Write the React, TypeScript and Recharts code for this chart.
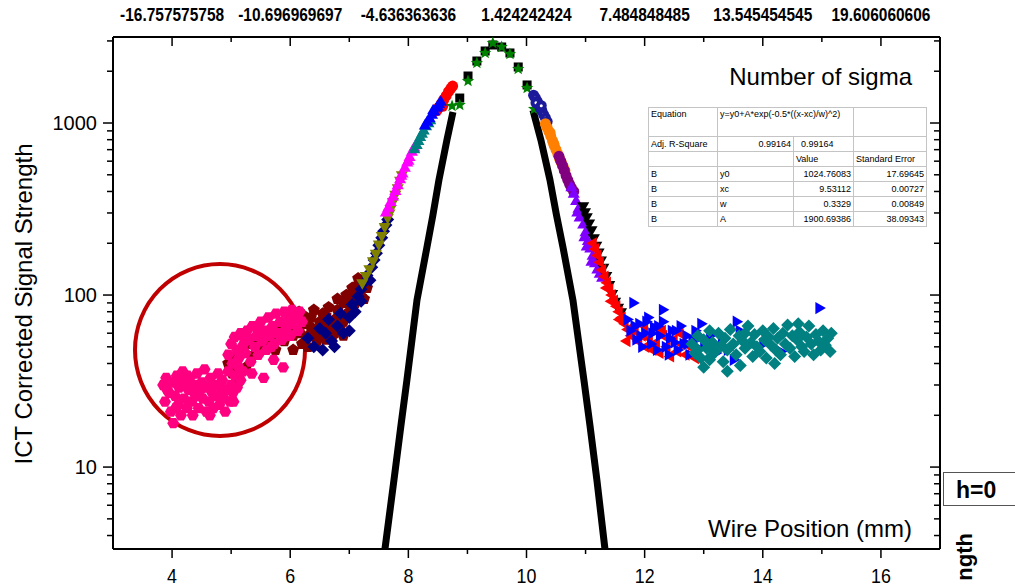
import React from "react";
import { ComposedChart, Scatter, XAxis, YAxis } from "recharts";

type Pt = [number, number];

// bottom axis ticks (mm) and the sigma labels on the top axis
const xTicks = [4, 5, 6, 7, 8, 9, 10, 11, 12, 13, 14, 15, 16];
const sigmaAt = [4, 6, 8, 10, 12, 14, 16];
const sigmaLabels = ["-16.757575758", "-10.696969697", "-4.636363636", "1.424242424", "7.484848485", "13.545454545", "19.606060606"];
const yTicks = [4, 5, 6, 7, 8, 9, 10, 20, 30, 40, 50, 60, 70, 80, 90, 100, 200, 300, 400, 500, 600, 700, 800, 900, 1000, 2000, 3000];
const yMajor = [10, 100, 1000];

// fit curve, two branches
const fitLeft: Pt[] = [
  [8.755, 1159], [8.653, 796], [8.518, 467], [8.416, 292], [8.315, 190], [8.146, 93.5], [8.061, 54.7], [7.976, 32.1], [7.875, 17.5], [7.756, 8.4], [7.604, 3.34],
];
const fitRight: Pt[] = [
  [10.109, 1190], [10.244, 796], [10.397, 467], [10.507, 292], [10.617, 190], [10.786, 93.5], [10.879, 54.7], [10.972, 32.1], [11.074, 17.5], [11.192, 8.4], [11.328, 3.34],
];

const pinkPts: Pt[] = [
  [3.85, 30], [3.88, 24], [3.9, 33], [3.95, 27], [3.98, 21], [4.0, 31], [4.02, 18], [4.05, 26], [4.08, 34], [4.1, 23],
  [4.12, 29], [4.15, 20], [4.18, 36], [4.2, 25], [4.22, 31], [4.25, 22], [4.28, 28], [4.3, 33], [4.33, 24], [4.35, 20],
  [4.38, 30], [4.4, 26], [4.42, 35], [4.45, 22], [4.48, 28], [4.5, 31], [4.52, 25], [4.55, 37], [4.58, 21], [4.6, 29],
  [4.62, 24], [4.65, 33], [4.68, 27], [4.7, 22], [4.72, 30], [4.75, 26], [4.78, 35], [4.8, 23], [4.83, 29], [4.85, 32],
  [4.88, 25], [4.9, 21], [4.92, 28], [4.95, 36], [4.98, 24], [5.0, 30], [5.03, 27], [5.06, 34], [5.1, 29], [5.13, 38],
  [5.16, 32], [5.2, 36], [3.92, 28], [4.06, 22], [4.26, 34], [4.44, 27], [4.64, 20], [4.86, 27], [5.04, 24], [4.16, 32],
  [4.95, 45], [5.0, 52], [5.02, 40], [5.06, 57], [5.1, 48], [5.13, 43], [5.16, 60], [5.2, 51], [5.24, 46], [5.27, 62],
  [5.3, 55], [5.33, 41], [5.36, 66], [5.4, 50], [5.43, 58], [5.46, 45], [5.5, 70], [5.53, 54], [5.56, 62], [5.6, 48],
  [5.63, 74], [5.66, 58], [5.7, 66], [5.73, 52], [5.76, 78], [5.8, 60], [5.83, 70], [5.86, 55], [5.9, 80], [5.93, 64],
  [5.96, 72], [6.0, 58], [6.03, 82], [6.06, 68], [6.1, 76], [6.13, 62], [6.16, 80], [6.2, 70], [5.88, 38], [5.55, 33],
  [5.35, 35], [5.72, 42], [5.22, 56], [5.45, 63], [5.68, 50], [5.95, 60], [6.08, 74],
];
const darkRedPts: Pt[] = [
  [4.95, 40], [5.02, 35], [5.08, 44], [5.12, 31], [5.18, 48], [5.25, 38], [5.3, 52], [5.35, 44], [5.42, 57], [5.48, 47],
  [5.55, 60], [5.6, 50], [5.68, 56], [5.75, 48], [5.8, 62], [5.9, 54], [6.0, 66], [6.05, 58], [6.1, 72], [6.15, 60],
  [6.2, 52], [6.25, 68], [6.3, 58], [6.35, 74], [6.4, 63], [6.45, 54], [6.5, 70], [6.55, 60], [6.6, 76], [6.65, 64],
  [6.7, 56], [6.75, 72], [6.8, 82], [6.85, 66], [6.9, 90], [6.95, 74], [7.0, 96], [7.05, 84], [7.1, 104], [7.15, 115],
  [7.2, 98], [7.25, 122], [7.3, 110],
  [6.0, 75], [6.05, 48], [6.15, 80], [6.25, 75], [6.3, 50], [6.35, 65], [6.4, 82], [6.45, 60], [6.55, 78], [6.6, 55],
  [6.65, 85], [6.7, 68], [6.75, 60], [6.8, 95], [6.85, 75], [6.9, 70], [6.95, 100], [7.0, 80], [7.05, 110], [7.1, 90],
  [7.15, 125], [7.25, 95], [6.62, 66], [6.9, 58],
];
const navyDiamondPts: Pt[] = [
  [6.3, 56], [6.4, 50], [6.5, 64], [6.55, 48], [6.6, 60], [6.65, 72], [6.7, 54], [6.8, 66], [6.85, 78], [6.9, 60],
  [7.0, 74], [7.05, 88], [7.1, 80], [7.15, 98], [7.2, 108], [7.25, 118], [7.3, 130], [7.35, 122], [7.38, 145], [7.42, 160],
  [7.46, 175], [7.5, 195], [7.55, 215], [7.58, 235], [7.62, 255], [7.65, 275], [6.75, 50], [7.0, 62], [7.2, 92],
];
const olivePts: Pt[] = [
  [7.22, 118], [7.28, 130], [7.34, 142], [7.4, 158], [7.45, 175], [7.5, 198], [7.55, 222], [7.6, 250], [7.65, 282], [7.7, 318],
  [7.74, 350], [7.78, 385], [7.82, 420], [7.86, 465], [7.89, 500], [7.68, 300],
];
const magentaPts: Pt[] = [
  [7.62, 300], [7.66, 320], [7.7, 345], [7.74, 372], [7.78, 400], [7.82, 432], [7.86, 468], [7.9, 505], [7.94, 545], [7.98, 585],
  [8.02, 630], [8.06, 675], [8.1, 715], [8.13, 740], [7.88, 490], [8.0, 600],
];
const tealTriPts: Pt[] = [[8.1, 700], [8.14, 740], [8.17, 780], [8.2, 825], [8.23, 860], [8.26, 900], [8.3, 950], [8.34, 990], [8.37, 1030]];
const blueUpPts: Pt[] = [[8.28, 960], [8.32, 1010], [8.36, 1060], [8.4, 1110], [8.44, 1160], [8.48, 1220], [8.52, 1280], [8.55, 1320], [8.42, 1180], [8.5, 1240]];
const redCirclePts: Pt[] = [[8.48, 1180], [8.52, 1240], [8.56, 1300], [8.6, 1370], [8.64, 1440], [8.68, 1520], [8.72, 1590], [8.75, 1640], [8.58, 1250]];
const peakSquares: Pt[] = [[8.87, 1397], [9.01, 1876], [9.16, 2293], [9.3, 2622], [9.43, 2841], [9.58, 2766], [9.72, 2553], [9.86, 2117], [10.01, 1664]];
const peakStars: Pt[] = [[8.74, 1256], [8.87, 1274], [9.01, 1754], [9.16, 2233], [9.3, 2553], [9.43, 2917], [9.58, 2766], [9.72, 2518], [9.86, 2061], [10.01, 1596], [10.13, 1205]];
const navyCirclePts: Pt[] = [[10.12, 1450], [10.15, 1400], [10.18, 1340], [10.2, 1290], [10.23, 1230], [10.26, 1180], [10.29, 1120], [10.32, 1070], [10.35, 1020], [10.16, 1310], [10.25, 1260]];
const orangePts: Pt[] = [[10.32, 990], [10.35, 940], [10.38, 890], [10.41, 840], [10.44, 790], [10.47, 740], [10.5, 700], [10.53, 660], [10.56, 620], [10.59, 590], [10.62, 560], [10.65, 530], [10.46, 760], [10.4, 880]];
const purplePts: Pt[] = [[10.55, 640], [10.58, 600], [10.61, 565], [10.64, 530], [10.67, 495], [10.7, 465], [10.73, 440], [10.76, 420], [10.8, 400]];
const violetPts: Pt[] = [
  [10.76, 420], [10.8, 385], [10.84, 350], [10.88, 315], [10.92, 285], [10.96, 255], [11.0, 230], [11.04, 205], [11.08, 185], [11.12, 168],
  [11.16, 152], [11.2, 140], [11.24, 132], [11.28, 125], [10.9, 280], [11.02, 190], [11.1, 155], [10.86, 300], [10.98, 215],
];
const blackDownPts: Pt[] = [
  [10.96, 330], [10.99, 305], [11.02, 285], [11.06, 262], [11.1, 240], [11.14, 215], [11.18, 195], [11.22, 178], [11.26, 160], [11.3, 145],
  [11.35, 130], [11.4, 115], [11.45, 102], [11.5, 92], [11.55, 85], [11.6, 80],
];
const redLeftPts: Pt[] = [
  [11.13, 200], [11.17, 185], [11.21, 170], [11.25, 155], [11.29, 140], [11.33, 128], [11.37, 118], [11.41, 108], [11.45, 100], [11.49, 93],
  [11.53, 86], [11.57, 80], [11.62, 74], [11.67, 68], [11.72, 63], [11.78, 58], [11.84, 62], [11.9, 54], [11.96, 58], [12.02, 50],
  [12.08, 56], [12.14, 48], [12.2, 53], [12.26, 46], [12.32, 58], [12.38, 50], [12.44, 44], [12.5, 55], [12.56, 47], [12.62, 52],
  [12.7, 45], [12.78, 50], [12.86, 43], [11.7, 54], [12.0, 66], [12.3, 62], [12.6, 60], [11.36, 110], [11.44, 92], [11.58, 72],
];
const blueRightPts: Pt[] = [
  [11.7, 72], [11.75, 62], [11.8, 90], [11.85, 55], [11.9, 68], [11.95, 50], [12.0, 60], [12.05, 74], [12.1, 52], [12.15, 65],
  [12.2, 48], [12.25, 58], [12.3, 70], [12.35, 50], [12.4, 45], [12.45, 62], [12.5, 53], [12.55, 48], [12.6, 66], [12.65, 52],
  [12.7, 58], [12.75, 45], [12.8, 55], [12.85, 62], [12.9, 49], [12.95, 68], [13.0, 52], [13.1, 58], [13.2, 46], [13.3, 55],
  [13.4, 48], [13.5, 42], [13.6, 62], [14.0, 52], [14.3, 47], [14.95, 84], [12.3, 82], [13.55, 70],
  [11.82, 66], [11.92, 58], [12.02, 70], [12.12, 60], [12.22, 66], [12.42, 56], [12.52, 62], [12.72, 52], [12.9, 56],
];
const tealDiamondPts: Pt[] = [
  [12.8, 52], [12.85, 46], [12.9, 58], [12.95, 43], [13.0, 55], [13.05, 49], [13.1, 62], [13.12, 44], [13.15, 53], [13.2, 47],
  [13.25, 60], [13.3, 51], [13.33, 41], [13.36, 56], [13.4, 48], [13.45, 63], [13.5, 52], [13.55, 45], [13.6, 58], [13.62, 39],
  [13.66, 54], [13.7, 49], [13.75, 66], [13.8, 53], [13.83, 44], [13.86, 59], [13.9, 50], [13.95, 47], [14.0, 62], [14.03, 55],
  [14.06, 43], [14.1, 57], [14.14, 51], [14.18, 64], [14.22, 48], [14.25, 56], [14.3, 45], [14.34, 60], [14.38, 52], [14.42, 67],
  [14.46, 49], [14.5, 58], [14.54, 44], [14.58, 55], [14.62, 61], [14.66, 50], [14.7, 47], [14.74, 57], [14.78, 66], [14.82, 52],
  [14.86, 45], [14.9, 59], [14.94, 54], [14.98, 48], [15.02, 62], [15.06, 51], [15.1, 56], [15.14, 47], [15.16, 60], [13.0, 38],
  [13.4, 36], [13.1, 42], [12.9, 48], [13.7, 60], [14.2, 40], [14.6, 68],
];

const fitTable = [
  ["Equation", "y=y0+A*exp(-0.5*((x-xc)/w)^2)", "", ""],
  ["Adj. R-Square", "0.99164", "0.99164", ""],
  ["", "", "Value", "Standard Error"],
  ["B", "y0", "1024.76083", "17.69645"],
  ["B", "xc", "9.53112", "0.00727"],
  ["B", "w", "0.3329", "0.00849"],
  ["B", "A", "1900.69386", "38.09343"],
];

const sans = "'Liberation Sans', Arial, sans-serif";

const toRows = (pts: Pt[]) => pts.map(([x, y]) => ({ x, y }));

function poly(cx: number, cy: number, n: number, r: number, rot: number) {
  const out: string[] = [];
  for (let i = 0; i < n; i++) {
    const a = ((rot + (360 / n) * i) * Math.PI) / 180;
    out.push(`${cx + r * Math.cos(a)},${cy + r * Math.sin(a)}`);
  }
  return out.join(" ");
}

function starPoly(cx: number, cy: number, ro: number, ri: number) {
  const out: string[] = [];
  for (let i = 0; i < 10; i++) {
    const a = ((-90 + 36 * i) * Math.PI) / 180;
    const r = i % 2 === 0 ? ro : ri;
    out.push(`${cx + r * Math.cos(a)},${cy + r * Math.sin(a)}`);
  }
  return out.join(" ");
}

function Marker({ cx, cy, kind, color }: { cx?: number; cy?: number; kind: string; color: string }) {
  if (cx == null || cy == null) return <g />;
  switch (kind) {
    case "hex":
      return <polygon points={poly(cx, cy, 6, 6, 0)} fill={color} />;
    case "pent":
      return <polygon points={poly(cx, cy, 5, 6.3, -90)} fill={color} />;
    case "diamond":
      return <polygon points={poly(cx, cy, 4, 6.5, -90)} fill={color} />;
    case "up":
      return <polygon points={poly(cx, cy, 3, 7, -90)} fill={color} />;
    case "down":
      return <polygon points={poly(cx, cy, 3, 7, 90)} fill={color} />;
    case "left":
      return <polygon points={poly(cx, cy, 3, 7, 180)} fill={color} />;
    case "right":
      return <polygon points={poly(cx, cy, 3, 7, 0)} fill={color} />;
    case "star":
      return <polygon points={starPoly(cx, cy, 6.5, 2.8)} fill={color} />;
    case "square":
      return <rect x={cx - 4.5} y={cy - 4.5} width={9} height={9} fill={color} />;
    case "dotted":
      return (
        <g>
          <circle cx={cx} cy={cy} r={5.5} fill={color} />
          <circle cx={cx} cy={cy} r={1.5} fill="#fff" />
        </g>
      );
    default:
      return <circle cx={cx} cy={cy} r={5.5} fill={color} />;
  }
}

const series: { data: Pt[]; color: string; kind: string }[] = [
  { data: darkRedPts, color: "#800000", kind: "pent" },
  { data: navyDiamondPts, color: "#000080", kind: "diamond" },
  { data: pinkPts, color: "#FF0080", kind: "hex" },
  { data: olivePts, color: "#808000", kind: "down" },
  { data: magentaPts, color: "#FF00FF", kind: "up" },
  { data: tealTriPts, color: "#008080", kind: "up" },
  { data: redCirclePts, color: "#FF0000", kind: "circle" },
  { data: blueUpPts, color: "#0000FF", kind: "up" },
  { data: peakSquares, color: "#000000", kind: "square" },
  { data: peakStars, color: "#008000", kind: "star" },
  { data: navyCirclePts, color: "#1a1a9a", kind: "dotted" },
  { data: orangePts, color: "#FF8000", kind: "circle" },
  { data: purplePts, color: "#800080", kind: "circle" },
  { data: violetPts, color: "#8000FF", kind: "up" },
  { data: blackDownPts, color: "#000000", kind: "down" },
  { data: redLeftPts, color: "#FF0000", kind: "left" },
  { data: blueRightPts, color: "#0000FF", kind: "right" },
  { data: tealDiamondPts, color: "#008080", kind: "diamond" },
];

const bottomTick = (p: any) => {
  const v = p.payload.value;
  const major = v % 2 === 0;
  return (
    <g>
      <line x1={p.x} x2={p.x} y1={p.y} y2={p.y + (major ? 9 : 5)} stroke="#000" strokeWidth={1.5} />
      {major && (
        <text transform={`translate(${p.x},${p.y + 34}) scale(0.85,1)`} textAnchor="middle" fontSize={21} fontFamily={sans} fill="#000">
          {v}
        </text>
      )}
    </g>
  );
};

const topTick = (p: any) => {
  const v = p.payload.value;
  const idx = sigmaAt.indexOf(v);
  return (
    <g>
      <line x1={p.x} x2={p.x} y1={p.y} y2={p.y + (idx >= 0 ? 9 : 5)} stroke="#000" strokeWidth={1.5} />
      {idx >= 0 && (
        <text transform={`translate(${p.x},${p.y - 16}) scale(0.86,1)`} textAnchor="middle" fontSize={18} fontWeight="bold" fontFamily={sans} fill="#000">
          {sigmaLabels[idx]}
        </text>
      )}
    </g>
  );
};

const leftTick = (p: any) => {
  const v = p.payload.value;
  const major = yMajor.includes(v);
  return (
    <g>
      <line x1={p.x} x2={p.x - (major ? 10 : 6)} y1={p.y} y2={p.y} stroke="#000" strokeWidth={1.5} />
      {major && (
        <text x={p.x - 16} y={p.y + 7} textAnchor="end" fontSize={20} fontFamily={sans} fill="#000">
          {v}
        </text>
      )}
    </g>
  );
};

const rightTick = (p: any) => {
  const v = p.payload.value;
  const major = yMajor.includes(v);
  return <line x1={p.x} x2={p.x - (major ? 10 : 6)} y1={p.y} y2={p.y} stroke="#000" strokeWidth={1.5} />;
};

const axisLine = { stroke: "#000", strokeWidth: 2 };
const yDomain: [number, number] = [3.34, 3162];
const fitLine = { stroke: "#000", strokeWidth: 7, strokeLinejoin: "round" as const };

export default function App() {
  return (
    <div style={{ position: "absolute", left: 0, top: 0, width: 1015, height: 587, background: "#fff", overflow: "hidden" }}>
      <svg width={1015} height={587} style={{ position: "absolute", left: 0, top: 0 }}>
        <ellipse cx={220} cy={350} rx={85} ry={86} fill="none" stroke="#C00000" strokeWidth={4} />
      </svg>
      <div style={{ position: "absolute", left: 0, top: 0 }}>
        <ComposedChart width={1015} height={587} margin={{ top: 0, right: 0, bottom: 0, left: 0 }}>
          <XAxis xAxisId="b" type="number" dataKey="x" orientation="bottom" domain={[3, 17]} allowDataOverflow ticks={xTicks} interval={0}
            height={38} axisLine={axisLine} tickLine={false} tickSize={0} tickMargin={0} tick={bottomTick} />
          <XAxis xAxisId="t" type="number" dataKey="x" orientation="top" domain={[3, 17]} allowDataOverflow ticks={xTicks} interval={0}
            height={37} axisLine={axisLine} tickLine={false} tickSize={0} tickMargin={0} tick={topTick} />
          <YAxis yAxisId="l" type="number" dataKey="y" scale="log" domain={yDomain} allowDataOverflow ticks={yTicks} interval={0}
            width={113} axisLine={axisLine} tickLine={false} tickSize={0} tickMargin={0} tick={leftTick} />
          <YAxis yAxisId="r" type="number" dataKey="y" orientation="right" scale="log" domain={yDomain} allowDataOverflow ticks={yTicks}
            interval={0} width={75} axisLine={axisLine} tickLine={false} tickSize={0} tickMargin={0} tick={rightTick} />
          <Scatter xAxisId="b" yAxisId="l" data={toRows(fitLeft)} line={fitLine} lineType="joint"
            shape={() => <g />} isAnimationActive={false} />
          <Scatter xAxisId="b" yAxisId="l" data={toRows(fitRight)} line={fitLine} lineType="joint"
            shape={() => <g />} isAnimationActive={false} />
          {series.map((s, i) => (
            <Scatter key={i} xAxisId="b" yAxisId="l" data={toRows(s.data)} isAnimationActive={false}
              shape={(p: any) => <Marker cx={p.cx} cy={p.cy} kind={s.kind} color={s.color} />} />
          ))}
        </ComposedChart>
      </div>
      <svg width={1015} height={587} style={{ position: "absolute", left: 0, top: 0, pointerEvents: "none" }}>
        <text x={912} y={85} textAnchor="end" fontSize={24} fontFamily={sans} fill="#000">Number of sigma</text>
        <text x={912} y={537} textAnchor="end" fontSize={24} fontFamily={sans} fill="#000">Wire Position (mm)</text>
        <text transform="translate(32,304) rotate(-90)" textAnchor="middle" fontSize={24} fontFamily={sans} fill="#000">
          ICT Corrected Signal Strength
        </text>
        <rect x={943.5} y={472.5} width={80} height={33} fill="#fff" stroke="#555" strokeWidth={1} />
        <text x={956} y={498} fontSize={23} fontWeight="bold" fontFamily={sans} fill="#000">h=0</text>
        <text transform="translate(972,533) rotate(-90)" textAnchor="end" fontSize={22} fontWeight="bold" fontFamily={sans} fill="#000">
          ngth
        </text>
      </svg>
      <table style={{ position: "absolute", left: 648, top: 107, width: 278, height: 119, borderCollapse: "collapse", background: "#fff",
        fontFamily: sans, fontSize: 9, border: "1px solid #555", tableLayout: "fixed" }}>
        <colgroup>
          <col style={{ width: 69 }} />
          <col style={{ width: 76 }} />
          <col style={{ width: 60 }} />
          <col style={{ width: 73 }} />
        </colgroup>
        <tbody>
          {fitTable.map((row, r) => {
            const cell = { border: "1px solid #c4c4c4", padding: "0 2px", whiteSpace: "nowrap" as const, overflow: "visible",
              height: r === 0 ? 28 : 14, verticalAlign: r === 0 ? ("top" as const) : ("middle" as const), lineHeight: "12px" };
            if (r === 0) {
              return (
                <tr key={r}>
                  <td style={cell}>{row[0]}</td>
                  <td style={cell} colSpan={2}>{row[1]}</td>
                  <td style={cell}>{row[3]}</td>
                </tr>
              );
            }
            return (
              <tr key={r}>
                <td style={cell}>{row[0]}</td>
                <td style={{ ...cell, textAlign: r === 1 ? "right" : "left" }}>{row[1]}</td>
                <td style={{ ...cell, textAlign: r >= 3 ? "right" : "left", paddingLeft: r === 1 ? 7 : 2 }}>{row[2]}</td>
                <td style={{ ...cell, textAlign: r >= 3 ? "right" : "left" }}>{row[3]}</td>
              </tr>
            );
          })}
        </tbody>
      </table>
    </div>
  );
}
